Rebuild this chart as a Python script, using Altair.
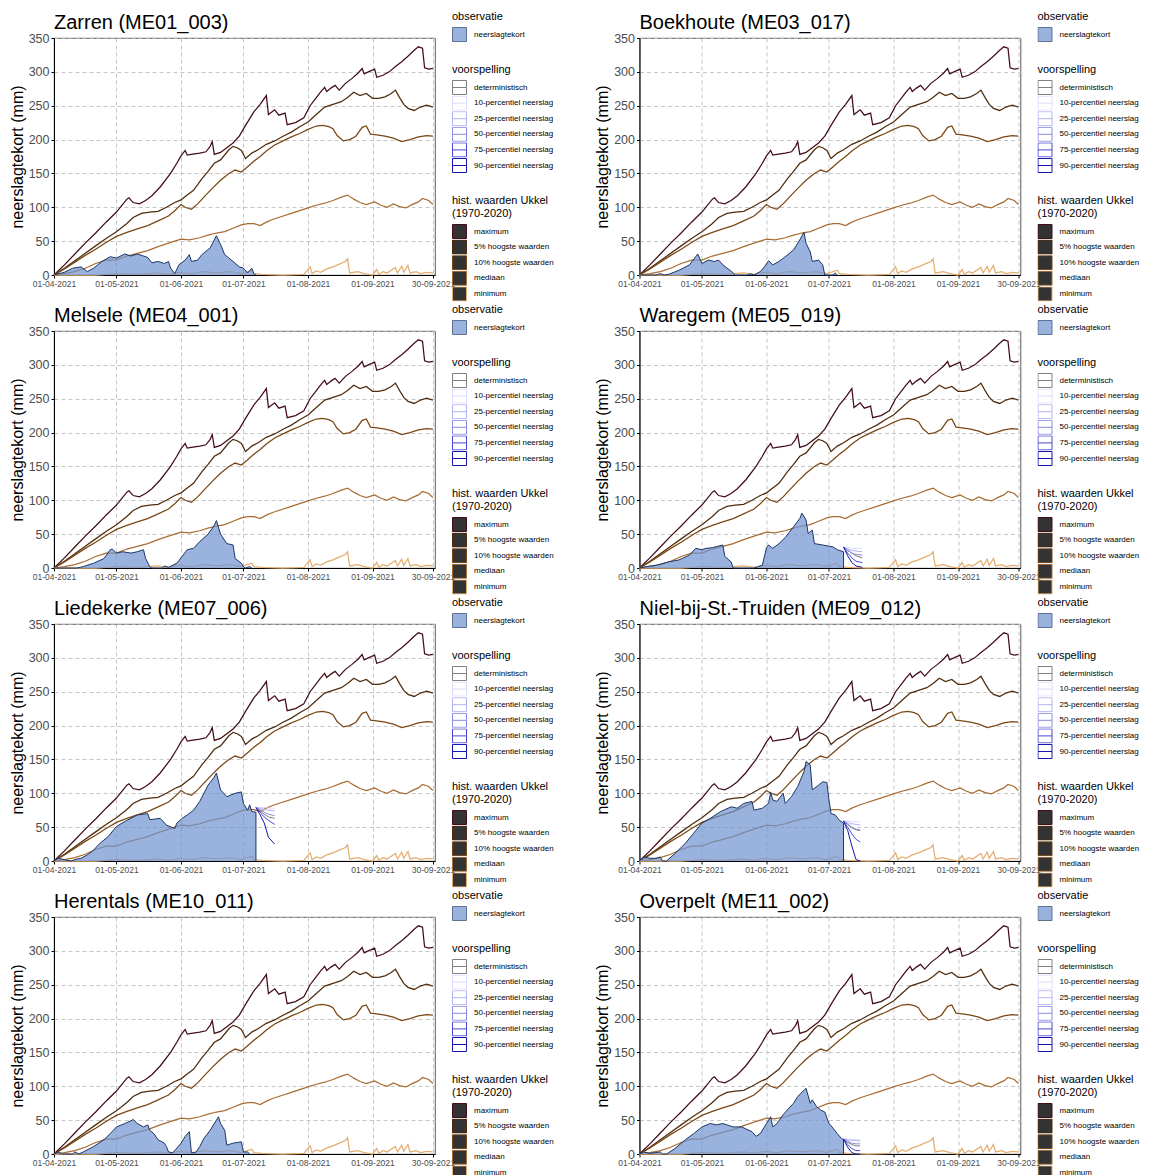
import altair as alt
import pandas as pd

FONT = "Liberation Sans"
START = pd.Timestamp("2021-04-01")

# ---------------- tick labels ----------------
X_TICKS = ["2021-04-01", "2021-05-01", "2021-06-01", "2021-07-01",
           "2021-08-01", "2021-09-01", "2021-09-30"]
Y_TICKS = [0, 50, 100, 150, 200, 250, 300, 350]

# ---------------- historical series (Ukkel 1970-2020), day offsets from 01-04 ----------------
HIST_LABELS = ["maximum", "5% hoogste waarden", "10% hoogste waarden", "mediaan", "minimum"]
HIST_COLORS = ["#420d16", "#4f2c0e", "#7a4714", "#a86c32", "#e3ae70"]

MAX_DAYS = [0, 5, 10, 15, 20, 25, 30, 35, 36, 38, 41, 44, 47, 51, 56, 59, 61, 63, 64, 66,
            70, 73, 75, 76, 77, 80, 83, 86, 89, 92, 96, 99, 102, 103, 106, 108, 111, 112, 116, 120,
            123, 126, 128, 130, 131, 133, 135, 137, 140, 143, 146, 148, 149, 151, 154, 155, 158, 161, 164, 167,
            170, 173, 175, 177, 178, 180, 182]
MAX_VALS = [0, 15, 31, 47, 62, 78, 93, 112, 114, 107, 105, 110, 117, 130, 150, 165, 176, 184, 177, 178,
            180, 182, 190, 197, 178, 181, 188, 195, 205, 221, 241, 252, 265, 237, 244, 236, 239, 222, 225, 232,
            250, 262, 270, 277, 271, 276, 280, 273, 283, 290, 298, 305, 297, 300, 304, 292, 295, 300, 308, 315,
            323, 332, 337, 335, 306, 304, 305]

P5_DAYS = [0, 5, 10, 15, 20, 25, 30, 35, 38, 42, 46, 50, 54, 58, 61, 64, 67, 71, 74, 77,
           80, 84, 86, 88, 90, 92, 95, 98, 102, 106, 110, 114, 118, 122, 126, 130, 134, 138, 141, 144,
           147, 150, 153, 156, 159, 162, 164, 166, 168, 170, 173, 176, 179, 182]
P5_VALS = [0, 10, 21, 32, 43, 54, 64, 76, 85, 91, 93, 94, 100, 107, 111, 118, 125, 142, 153, 165,
           170, 185, 190, 188, 184, 172, 180, 185, 193, 198, 205, 211, 219, 226, 237, 248, 252, 256, 262, 270,
           265, 268, 261, 261, 263, 268, 273, 262, 252, 246, 243, 248, 251, 248]

P10_DAYS = [0, 5, 10, 15, 20, 25, 30, 35, 40, 45, 50, 55, 58, 61, 63, 66, 69, 72, 76, 80,
            84, 87, 90, 93, 96, 99, 102, 106, 110, 114, 118, 122, 126, 129, 132, 134, 136, 139, 142, 145,
            148, 150, 152, 155, 159, 163, 167, 171, 175, 179, 182]
P10_VALS = [0, 9, 19, 29, 38, 48, 57, 63, 68, 73, 80, 87, 95, 104, 100, 97, 105, 115, 128, 140,
            150, 155, 152, 160, 168, 175, 183, 192, 198, 204, 209, 215, 220, 221, 219, 216, 206, 198, 200, 205,
            218, 220, 208, 207, 205, 202, 197, 200, 204, 206, 205]

MED_DAYS = [0, 5, 10, 15, 20, 25, 30, 35, 40, 45, 50, 55, 58, 61, 65, 70, 74, 78, 82, 86,
            90, 93, 96, 99, 102, 105, 109, 114, 118, 122, 126, 130, 134, 138, 141, 144, 147, 150, 154, 157,
            160, 163, 166, 169, 172, 175, 177, 180, 182]
MED_VALS = [0, 2, 5, 10, 17, 22, 22, 28, 32, 36, 42, 47, 50, 53, 52, 55, 59, 62, 64, 69,
            74, 76, 76, 73, 78, 82, 86, 91, 95, 99, 103, 106, 110, 115, 118, 112, 107, 104, 108, 103,
            100, 105, 101, 99, 104, 108, 113, 110, 104]

MIN_DAYS = [0, 20, 30, 40, 50, 55, 60, 66, 72, 78, 85, 90, 95, 96, 100, 110, 120, 123, 124, 126,
            128, 131, 134, 137, 140, 141, 142, 146, 149, 153, 155, 156, 158, 160, 164, 165, 167, 168, 170, 171,
            174, 176, 179, 182]
MIN_VALS = [0, 0, 2, 1, 3, 1, 4, 2, 5, 3, 5, 2, 7, 2, 1, 0, 1, 12, 2, 6,
            4, 9, 12, 16, 20, 24, 3, 5, 2, 0, 8, 1, 5, 3, 11, 3, 13, 4, 14, 3,
            5, 2, 4, 3]

# ---------------- forecast legend ----------------
FC_LABELS = ["deterministisch", "10-percentiel neerslag", "25-percentiel neerslag",
             "50-percentiel neerslag", "75-percentiel neerslag", "90-percentiel neerslag"]
FC_COLORS = ["#808080", "#dcdcfc", "#b2b2f2", "#8a8ae4", "#4848d4", "#1414b0"]

OBS_LABEL = "neerslagtekort"
OBS_FILL = "#6f93d0"
OBS_LINE = "#1b3564"

# ---------------- stations: observed deficit and forecasts ----------------
STATIONS = ["Zarren (ME01_003)", "Boekhoute (ME03_017)", "Melsele (ME04_001)", "Waregem (ME05_019)",
            "Liedekerke (ME07_006)", "Niel-bij-St.-Truiden (ME09_012)", "Herentals (ME10_011)",
            "Overpelt (ME11_002)"]

ZARREN_DAYS = [0, 5, 9, 13, 16, 19, 23, 27, 30, 34, 37, 40, 43, 45, 47, 50, 53, 55, 56, 58,
               60, 63, 65, 66, 69, 71, 75, 78, 80, 82, 86, 89, 91, 93, 95, 96, 97]
ZARREN_VALS = [0, 4, 10, 12, 5, 10, 20, 27, 25, 31, 28, 31, 28, 26, 18, 20, 17, 20, 10, 2,
               15, 22, 30, 20, 22, 30, 40, 58, 45, 30, 20, 12, 10, 3, 10, 2, 0]

BOEK_DAYS = [0, 8, 10, 12, 14, 19, 24, 27, 28, 30, 33, 36, 38, 40, 43, 45, 46, 52, 53, 55,
             58, 60, 62, 64, 67, 70, 74, 77, 79, 80, 82, 83, 86, 88, 89, 93, 94, 95]
BOEK_VALS = [0, 0, 2, 0, 1, 7, 15, 27, 31, 17, 22, 20, 22, 15, 8, 3, 0, 0, 2, 0,
             5, 12, 21, 15, 20, 27, 37, 52, 63, 47, 34, 20, 22, 15, 0, 0, 3, 0]

MELS_DAYS = [0, 11, 14, 19, 24, 27, 28, 30, 33, 37, 40, 43, 44, 46, 47, 52, 53, 55, 59, 62,
             64, 67, 70, 74, 77, 78, 80, 83, 86, 87, 90, 91, 92, 94, 95]
MELS_VALS = [0, 0, 2, 7, 14, 27, 28, 22, 24, 22, 24, 27, 14, 2, 0, 0, 3, 1, 7, 19,
             27, 29, 39, 50, 63, 70, 50, 36, 34, 14, 7, 2, 0, 2, 0]

WAR_DAYS = [0, 5, 8, 14, 19, 24, 27, 30, 32, 35, 40, 41, 44, 45, 55, 57, 59, 61, 62, 64,
            67, 70, 74, 77, 78, 80, 81, 83, 84, 88, 93, 95, 98, 98]
WAR_VALS = [0, 3, 4, 9, 12, 19, 29, 27, 29, 30, 34, 17, 9, 0, 0, 2, 4, 30, 34, 29,
            36, 45, 61, 73, 81, 71, 51, 56, 36, 34, 31, 27, 24, 0]
WAR_FC_DAYS = [98, 100, 102, 104, 107]
WAR_FC = [[31, 26, 22, 18, 15], [31, 30, 29, 29, 29], [31, 28, 26, 25, 24],
          [31, 26, 22, 20, 19], [31, 22, 15, 10, 8], [31, 18, 8, 3, 1]]

LIED_DAYS = [0, 2, 5, 8, 11, 13, 16, 19, 22, 26, 30, 35, 40, 45, 46, 51, 54, 58, 59, 62,
             64, 67, 70, 72, 74, 77, 78, 80, 83, 87, 90, 91, 93, 94, 95, 97, 97]
LIED_VALS = [0, 4, 2, 0, 3, 4, 9, 16, 26, 36, 51, 60, 68, 70, 61, 63, 53, 48, 56, 64,
             68, 75, 88, 100, 112, 124, 130, 105, 95, 100, 102, 85, 75, 83, 73, 72, 0]
LIED_FC_DAYS = [97, 99, 101, 103, 106]
LIED_FC = [[79, 74, 69, 65, 63], [79, 79, 79, 78, 78], [79, 78, 76, 75, 74],
           [79, 76, 72, 69, 67], [79, 72, 65, 60, 54], [79, 68, 56, 35, 25]]

NIEL_DAYS = [0, 2, 5, 8, 10, 11, 13, 17, 22, 26, 30, 34, 39, 44, 47, 50, 54, 55, 59, 62,
             63, 64, 66, 69, 70, 73, 76, 79, 80, 82, 83, 86, 88, 90, 91, 92, 94, 96, 98, 98]
NIEL_VALS = [0, 6, 4, 4, 6, 0, 0, 11, 26, 41, 56, 63, 73, 80, 78, 85, 88, 75, 78, 85,
             102, 90, 88, 100, 85, 95, 110, 132, 147, 142, 105, 112, 117, 116, 90, 70, 68, 60, 56, 0]
NIEL_FC_DAYS = [98, 100, 102, 104, 106]
NIEL_FC = [[59, 54, 49, 46, 45], [59, 59, 58, 58, 58], [59, 57, 55, 54, 53],
           [59, 55, 50, 47, 46], [59, 50, 40, 32, 28], [59, 45, 22, 2, 0]]

HER_DAYS = [0, 2, 4, 9, 10, 12, 14, 19, 24, 27, 30, 34, 37, 38, 40, 43, 45, 46, 48, 50,
            53, 54, 55, 57, 58, 61, 63, 65, 66, 68, 70, 72, 75, 78, 79, 80, 82, 83, 86, 88,
            90, 91, 93, 94]
HER_VALS = [0, 3, 0, 0, 3, 0, 3, 11, 21, 30, 40, 45, 49, 51, 45, 40, 43, 35, 30, 21,
            16, 11, 3, 2, 5, 16, 26, 33, 2, 2, 11, 23, 35, 50, 55, 45, 35, 13, 16, 17,
            18, 3, 3, 0]

OVER_DAYS = [0, 2, 5, 10, 11, 13, 17, 22, 26, 30, 34, 37, 40, 45, 49, 54, 56, 58, 61, 63,
             64, 66, 69, 71, 74, 76, 79, 80, 82, 83, 85, 87, 89, 91, 93, 95, 97, 98, 98]
OVER_VALS = [0, 3, 1, 3, 0, 0, 8, 21, 30, 40, 45, 43, 45, 40, 40, 33, 26, 30, 45, 55,
             40, 45, 58, 65, 75, 85, 94, 97, 75, 80, 70, 65, 62, 45, 38, 30, 23, 21, 0]
OVER_FC_DAYS = [98, 100, 102, 104, 106]
OVER_FC = [[22, 17, 14, 12, 12], [22, 22, 21, 21, 21], [22, 21, 20, 20, 19],
           [22, 19, 16, 15, 15], [22, 14, 8, 5, 5], [22, 10, 2, 0, 0]]

STATION_DATA = [
    (ZARREN_DAYS, ZARREN_VALS, [], []),
    (BOEK_DAYS, BOEK_VALS, [], []),
    (MELS_DAYS, MELS_VALS, [], []),
    (WAR_DAYS, WAR_VALS, WAR_FC_DAYS, WAR_FC),
    (LIED_DAYS, LIED_VALS, LIED_FC_DAYS, LIED_FC),
    (NIEL_DAYS, NIEL_VALS, NIEL_FC_DAYS, NIEL_FC),
    (HER_DAYS, HER_VALS, [], []),
    (OVER_DAYS, OVER_VALS, OVER_FC_DAYS, OVER_FC),
]


def to_dates(days):
    return [(START + pd.Timedelta(days=int(d))).strftime("%Y-%m-%d") for d in days]


def dt(s):
    t = pd.Timestamp(s)
    return alt.DateTime(year=t.year, month=t.month, date=t.day, utc=True)


hist_frames = []
for lab, dd, vv in zip(HIST_LABELS,
                       [MAX_DAYS, P5_DAYS, P10_DAYS, MED_DAYS, MIN_DAYS],
                       [MAX_VALS, P5_VALS, P10_VALS, MED_VALS, MIN_VALS]):
    hist_frames.append(pd.DataFrame({"datum": to_dates(dd), "waarde": vv, "reeks": lab}))
hist_df = pd.concat(hist_frames, ignore_index=True)

GRID = dict(grid=True, gridDash=[4, 3], gridColor="#b8b8b8", gridWidth=0.8)

X_ENC = alt.X("datum:T",
              scale=alt.Scale(type="utc", domain=[dt("2021-04-01"), dt("2021-10-01")]),
              axis=alt.Axis(values=[dt(s) for s in X_TICKS], format="%d-%m-%Y", title=None,
                            labelFont=FONT, labelFontSize=8.5, labelColor="#4d4d4d",
                            labelFlush=False, labelOverlap=False, labelPadding=1,
                            tickSize=3, tickColor="black", domainColor="black", **GRID))
Y_ENC = alt.Y("waarde:Q",
              scale=alt.Scale(domain=[0, 350], nice=False),
              axis=alt.Axis(values=Y_TICKS, title="neerslagtekort (mm)",
                            titleFont=FONT, titleFontSize=16, titleFontWeight="normal",
                            titleColor="black", titlePadding=3,
                            labelFont=FONT, labelFontSize=12.5, labelColor="#4d4d4d",
                            labelPadding=2, tickSize=3, tickColor="black", domainColor="black",
                            **GRID))


def legend(title, y, **kw):
    return alt.Legend(title=title, orient="none", legendX=398, legendY=y, direction="vertical",
                      titleFont=FONT, titleFontSize=11, titleFontWeight="normal", titleColor="black",
                      titlePadding=5, labelFont=FONT, labelFontSize=8, labelColor="black",
                      labelOffset=7, symbolSize=196, symbolStrokeWidth=1,
                      clipHeight=15, rowPadding=0.6, padding=0, **kw)


def panel(name, obs_days, obs_vals, fc_days, fc_vals):
    hist = alt.Chart(hist_df).mark_line(strokeWidth=1.25).encode(
        x=X_ENC, y=Y_ENC,
        color=alt.Color("reeks:N", scale=alt.Scale(domain=HIST_LABELS, range=HIST_COLORS),
                        legend=legend(["hist. waarden Ukkel", "(1970-2020)"], 157,
                                      symbolType="square", symbolFillColor="#333333")))

    obs_df = pd.DataFrame({"datum": to_dates(obs_days), "waarde": obs_vals, "type": OBS_LABEL})
    area = alt.Chart(obs_df).mark_area(fillOpacity=0.7, strokeWidth=0).encode(
        x=X_ENC, y=Y_ENC,
        fill=alt.Fill("type:N", scale=alt.Scale(domain=[OBS_LABEL], range=[OBS_FILL]),
                      legend=legend("observatie", -27, symbolType="square",
                                    symbolStrokeColor=OBS_LINE, symbolOpacity=0.7)))
    outline = alt.Chart(obs_df).mark_line(color=OBS_LINE, strokeWidth=1).encode(x=X_ENC, y=Y_ENC)

    rows = []
    for lab, vals in zip(FC_LABELS, fc_vals):
        for d, v in zip(to_dates(fc_days), vals):
            rows.append({"datum": d, "waarde": v, "perc": lab})
    fc_df = pd.DataFrame(rows, columns=["datum", "waarde", "perc"])
    fc = alt.Chart(fc_df).mark_line(strokeWidth=1).encode(
        x=X_ENC, y=Y_ENC,
        stroke=alt.Stroke("perc:N", scale=alt.Scale(domain=FC_LABELS, range=FC_COLORS),
                          legend=legend("voorspelling", 26,
                                        symbolType="M-1,-1H1V1H-1Z M-1,0H1")))

    return alt.layer(hist, area, outline, fc).properties(
        width=381, height=237,
        title=alt.TitleParams(name, anchor="start", frame="group", font=FONT, fontSize=20,
                              fontWeight="normal", color="black", offset=-22))


panels = [panel(n, *d) for n, d in zip(STATIONS, STATION_DATA)]

chart = alt.concat(*panels, columns=2, bounds="flush",
                   spacing={"row": 56, "column": 204.5}).resolve_scale(
    color="independent", fill="independent", stroke="independent"
).properties(padding={"left": 0, "top": 2, "right": 0, "bottom": 0}).configure_view(
    stroke="#333333", strokeWidth=0.8
)

chart.save("out.html", embed_options={"renderer": "svg", "actions": False})
